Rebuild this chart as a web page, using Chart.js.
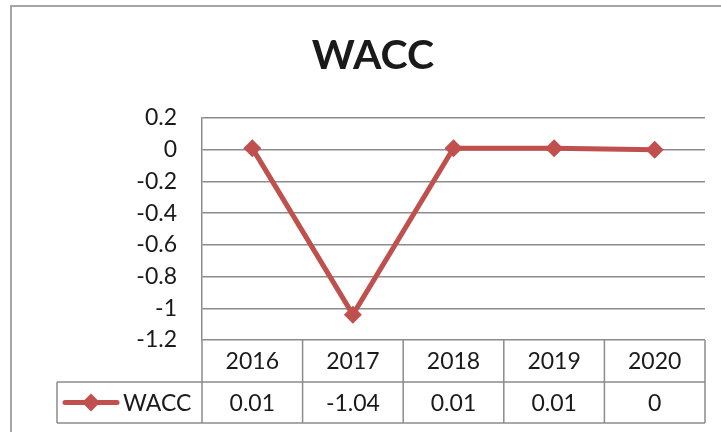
<!DOCTYPE html>
<html>
<head>
<meta charset="utf-8">
<script src="https://cdn.jsdelivr.net/npm/chart.js@4"></script>
<style>
  body { margin: 0; background: #fff; }
  canvas { display: block; }
</style>
</head>
<body>
<canvas id="waccChart" width="721" height="432"></canvas>
<script>
// данные графика
const years = ['2016', '2017', '2018', '2019', '2020'];
const waccValues = [0.01, -1.04, 0.01, 0.01, 0];
const waccLabels = ['0.01', '-1.04', '0.01', '0.01', '0'];
const seriesName = 'WACC';
const chartTitle = 'WACC';

const lineColor = '#c0504d';
const gridColor = '#8c8c8c';
const textColor = '#1a1a1a';
const font = 'Lato, "Open Sans", sans-serif';

// рамка и заголовок
const frame = {
    id: 'frame',
    beforeDraw(chart) {
        const c = chart.ctx;
        c.save();
        c.strokeStyle = '#a6a6a6';
        c.lineWidth = 2;
        c.strokeRect(11, 6, chart.width + 20, chart.height + 20);
        c.fillStyle = textColor;
        c.font = 'bold 41px ' + font;
        c.textAlign = 'center';
        c.textBaseline = 'middle';
        c.fillText(chartTitle, 373, 56);
        c.restore();
    }
};

// таблица данных под осью X
const dataTable = {
    id: 'dataTable',
    afterDraw(chart) {
        const c = chart.ctx;
        const x = chart.scales.x;
        const area = chart.chartArea;
        const top = area.bottom;
        const mid = top + 42;
        const bottom = mid + 41;
        const legendLeft = 57;
        const edges = [area.left];
        for (let i = 0; i < years.length; i++) {
            const center = x.getPixelForValue(i);
            const next = i < years.length - 1 ? x.getPixelForValue(i + 1) : null;
            edges.push(next === null ? area.right : (center + next) / 2);
        }

        c.save();
        c.strokeStyle = gridColor;
        c.lineWidth = 1.5;
        c.beginPath();
        edges.forEach(e => { c.moveTo(e, top); c.lineTo(e, bottom); });
        c.moveTo(legendLeft, mid); c.lineTo(area.right, mid);
        c.moveTo(legendLeft, bottom); c.lineTo(area.right, bottom);
        c.moveTo(legendLeft, mid); c.lineTo(legendLeft, bottom);
        c.stroke();

        c.fillStyle = textColor;
        c.font = '23px ' + font;
        c.textAlign = 'center';
        c.textBaseline = 'middle';
        years.forEach((y, i) => {
            const cx = x.getPixelForValue(i);
            c.fillText(y, cx, (top + mid) / 2 + 1);
            c.fillText(waccLabels[i], cx, (mid + bottom) / 2 + 1);
        });

        // ключ легенды
        const ky = (mid + bottom) / 2;
        c.strokeStyle = lineColor;
        c.lineWidth = 5;
        c.lineCap = 'round';
        c.beginPath();
        c.moveTo(65, ky); c.lineTo(117, ky);
        c.stroke();
        c.fillStyle = lineColor;
        c.beginPath();
        c.moveTo(91, ky - 9); c.lineTo(100, ky); c.lineTo(91, ky + 9); c.lineTo(82, ky);
        c.closePath();
        c.fill();
        c.fillStyle = textColor;
        c.textAlign = 'left';
        c.fillText(seriesName, 123, ky + 1);
        c.restore();
    }
};

new Chart(document.getElementById('waccChart'), {
    type: 'line',
    data: {
        labels: years,
        datasets: [{
            label: seriesName,
            data: waccValues,
            borderColor: lineColor,
            backgroundColor: lineColor,
            borderWidth: 5,
            tension: 0,
            pointStyle: 'rectRot',
            pointRadius: 9,
            pointBorderWidth: 0
        }]
    },
    options: {
        responsive: false,
        animation: false,
        devicePixelRatio: 1,
        layout: { padding: { left: 0, right: 16, top: 118, bottom: 92 } },
        plugins: {
            legend: { display: false },
            tooltip: { enabled: false },
            title: { display: false }
        },
        scales: {
            x: {
                type: 'category',
                offset: true,
                display: false
            },
            y: {
                min: -1.2,
                max: 0.2,
                afterFit(scale) { scale.width = 202; },
                ticks: {
                    stepSize: 0.2,
                    padding: 25,
                    color: textColor,
                    font: { family: font, size: 23 },
                    callback: v => String(Number(v.toFixed(1)))
                },
                grid: { color: gridColor, lineWidth: 1.5, drawTicks: false },
                border: { color: gridColor, width: 1.5 }
            }
        }
    },
    plugins: [frame, dataTable]
});
</script>
</body>
</html>
